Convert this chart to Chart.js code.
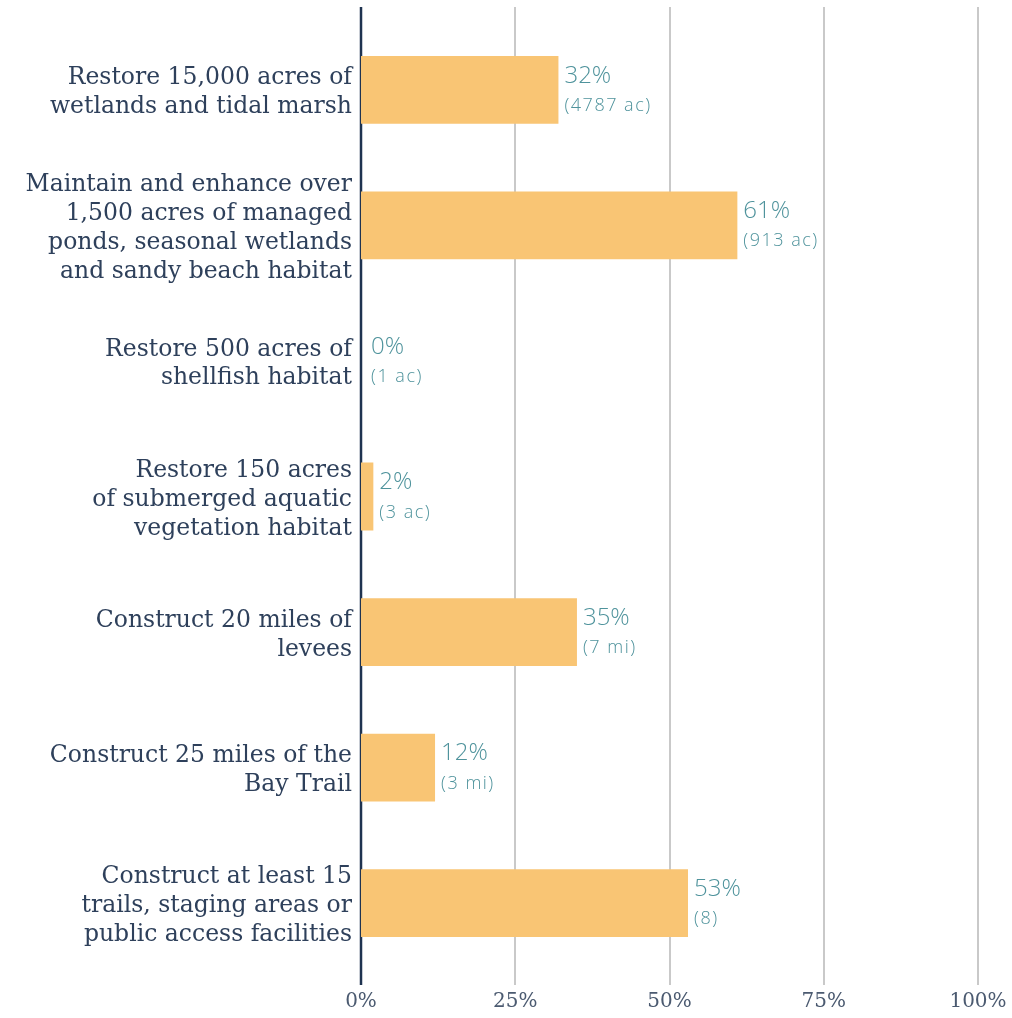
<!DOCTYPE html>
<html lang="en">
<head>
    <meta charset="UTF-8">
    <title>Habitat Goals Progress</title>
    <script src="https://cdn.jsdelivr.net/npm/chart.js@4.4.0/dist/chart.umd.min.js"></script>
    <style>
        html, body { margin: 0; padding: 0; background: #fff; }
        .chart-container { position: relative; width: 1012px; height: 1018px; }
    </style>
</head>
<body>
    <div class="chart-container">
        <canvas id="goalsChart"></canvas>
    </div>
    <script>
        const goals = [
            ['Restore 15,000 acres of', 'wetlands and tidal marsh'],
            ['Maintain and enhance over', '1,500 acres of managed', 'ponds, seasonal wetlands', 'and sandy beach habitat'],
            ['Restore 500 acres of', 'shellfish habitat'],
            ['Restore 150 acres', 'of submerged aquatic', 'vegetation habitat'],
            ['Construct 20 miles of', 'levees'],
            ['Construct 25 miles of the', 'Bay Trail'],
            ['Construct at least 15', 'trails, staging areas or', 'public access facilities']
        ];
        const percentDone = [32, 61, 0, 2, 35, 12, 53];
        const amountDone = ['(4787 ac)', '(913 ac)', '(1 ac)', '(3 ac)', '(7 mi)', '(3 mi)', '(8)'];
        const xTicks = [0, 25, 50, 75, 100];

        const navy = '#2e405b';
        const teal = '#4f939c';

        // grid lines run a bit past the plot area, so draw them by hand
        const gridLines = {
            id: 'gridLines',
            beforeDatasetsDraw(chart) {
                const ctx = chart.ctx;
                const x = chart.scales.x;
                ctx.save();
                xTicks.forEach(t => {
                    const px = Math.round(x.getPixelForValue(t));
                    ctx.beginPath();
                    ctx.moveTo(px, 7);
                    ctx.lineTo(px, 985);
                    if (t === 0) {
                        ctx.strokeStyle = '#1f3350';
                        ctx.lineWidth = 2.5;
                    } else {
                        ctx.strokeStyle = '#c9c9c9';
                        ctx.lineWidth = 2;
                    }
                    ctx.stroke();
                });
                ctx.restore();
            }
        };

        const valueLabels = {
            id: 'valueLabels',
            afterDatasetsDraw(chart) {
                const ctx = chart.ctx;
                const meta = chart.getDatasetMeta(0);
                ctx.save();
                ctx.fillStyle = teal;
                ctx.textAlign = 'left';
                ctx.textBaseline = 'middle';
                meta.data.forEach((bar, i) => {
                    const x = bar.x + (percentDone[i] === 0 ? 10 : 6);
                    ctx.font = '300 24px "Open Sans", sans-serif';
                    ctx.letterSpacing = '0px';
                    ctx.fillText(percentDone[i] + '%', x, bar.y - 14);
                    ctx.font = '300 18px "Open Sans", sans-serif';
                    ctx.letterSpacing = '1.5px';
                    ctx.fillText(amountDone[i], x, bar.y + 16);
                });
                ctx.restore();
            }
        };

        new Chart(document.getElementById('goalsChart'), {
            type: 'bar',
            data: {
                labels: goals,
                datasets: [{
                    data: percentDone,
                    backgroundColor: '#f9c574',
                    borderWidth: 0,
                    barPercentage: 0.5,
                    categoryPercentage: 1.0
                }]
            },
            options: {
                indexAxis: 'y',
                responsive: true,
                maintainAspectRatio: false,
                animation: false,
                layout: { padding: { top: 22, right: 34, left: 0, bottom: 0 } },
                plugins: {
                    legend: { display: false },
                    tooltip: { enabled: false }
                },
                scales: {
                    x: {
                        min: 0,
                        max: 100,
                        afterBuildTicks: scale => { scale.ticks = xTicks.map(v => ({ value: v })); },
                        afterFit: scale => {
                            scale.height = 47;
                            scale.paddingLeft = 0;
                            scale.paddingRight = 0;
                        },
                        grid: { display: false, drawTicks: false },
                        border: { display: false },
                        ticks: {
                            padding: 19,
                            color: '#4b5a70',
                            font: { family: '"DejaVu Serif", serif', size: 20 },
                            callback: v => v + '%'
                        }
                    },
                    y: {
                        afterFit: scale => {
                            scale.width = 361;
                            scale.paddingTop = 0;
                            scale.paddingBottom = 0;
                        },
                        grid: { display: false, drawTicks: false },
                        border: { display: false },
                        ticks: {
                            padding: 9,
                            labelOffset: 3,
                            color: navy,
                            font: { family: '"DejaVu Serif", serif', size: 23.5, lineHeight: 1.23 }
                        }
                    }
                }
            },
            plugins: [gridLines, valueLabels]
        });
    </script>
</body>
</html>
